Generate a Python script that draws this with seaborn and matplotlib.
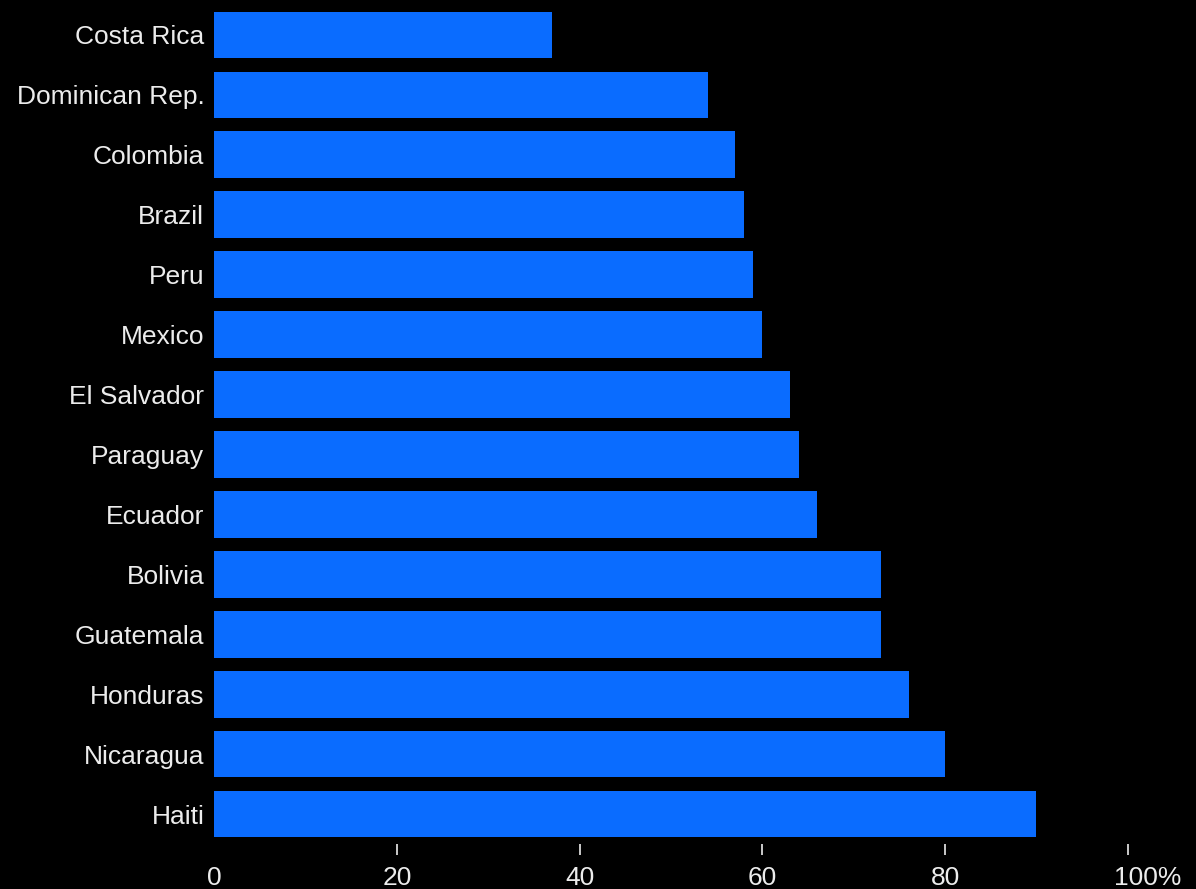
import matplotlib
matplotlib.use("Agg")
import matplotlib.pyplot as plt
import matplotlib.transforms as mtransforms
import pandas as pd
import seaborn as sns

countries = [
    "Costa Rica", "Dominican Rep.", "Colombia", "Brazil", "Peru", "Mexico",
    "El Salvador", "Paraguay", "Ecuador", "Bolivia", "Guatemala", "Honduras",
    "Nicaragua", "Haiti",
]
shares = [37, 54, 57, 58, 59, 60, 63, 64, 66, 73, 73, 76, 80, 90]
tick_values = [0, 20, 40, 60, 80, 100]
tick_labels = ["0", "20", "40", "60", "80", "100%"]

BAR_COLOR = "#0a6cff"
TEXT_COLOR = "#ececec"


def main():
    df = pd.DataFrame({"country": countries, "share": shares})

    sns.set_theme(style="white")
    plt.rcParams["font.family"] = ["Liberation Sans", "DejaVu Sans"]

    fig = plt.figure(figsize=(11.96, 8.89), dpi=100, facecolor="black")
    ax = fig.add_axes([0.179, 0.0506, 0.764, 0.9438])
    ax.set_facecolor("black")

    sns.barplot(data=df, x="share", y="country", color=BAR_COLOR,
                saturation=1, width=0.78, orient="h", linewidth=0, ax=ax)

    ax.set_xlim(0, 100)
    ax.set_ylim(len(countries) - 0.5, -0.5)
    ax.set_xlabel("")
    ax.set_ylabel("")

    for side in ["top", "right", "bottom", "left"]:
        ax.spines[side].set_visible(False)

    ax.set_xticks(tick_values)
    ax.set_xticklabels(tick_labels)
    ax.tick_params(axis="x", bottom=True, length=8, width=1.2, color=TEXT_COLOR,
                   pad=8, labelsize=19, labelcolor=TEXT_COLOR)
    ax.tick_params(axis="y", left=False, length=0, pad=7, labelsize=19,
                   labelcolor=TEXT_COLOR)

    # no tick mark under the zero line
    ax.xaxis.get_major_ticks()[0].tick1line.set_visible(False)

    # "100%" hangs to the right of its tick
    last = ax.get_xticklabels()[-1]
    offset = mtransforms.ScaledTranslation(0.2, 0, fig.dpi_scale_trans)
    last.set_transform(last.get_transform() + offset)

    plt.savefig("out.png", dpi=100, facecolor="black")
    plt.close()


if __name__ == "__main__":
    main()
